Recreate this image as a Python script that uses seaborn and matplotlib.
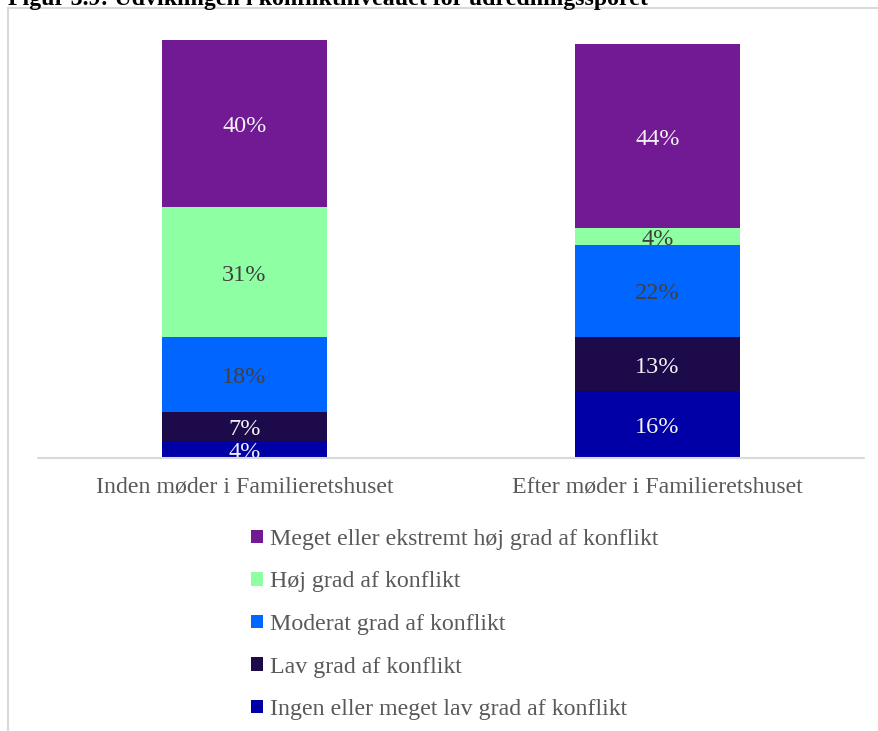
import matplotlib
matplotlib.use("Agg")
import matplotlib.pyplot as plt
from matplotlib.patches import Patch
from matplotlib.lines import Line2D
from matplotlib.transforms import offset_copy
import numpy as np
import pandas as pd
import seaborn as sns

# Data (percent of cases per conflict level)
periods = ["Inden møder i Familieretshuset", "Efter møder i Familieretshuset"]
levels = [
    "Ingen eller meget lav grad af konflikt",
    "Lav grad af konflikt",
    "Moderat grad af konflikt",
    "Høj grad af konflikt",
    "Meget eller ekstremt høj grad af konflikt",
]
ingen = [4, 16]
lav = [7, 13]
moderat = [18, 22]
hoj = [31, 4]
meget = [40, 44]

colors = ["#0000A6", "#1C0A4B", "#0066FF", "#8FFFA3", "#721A94"]
label_colors = ["#F2F2F2", "#F2F2F2", "#404040", "#404040", "#F2F2F2"]

series = [ingen, lav, moderat, hoj, meget]
values = np.array(series, dtype=float)
cum = values.cumsum(axis=0)

serif = ["Liberation Serif", "DejaVu Serif"]
sns.set_theme(style="white")
plt.rcParams["font.family"] = serif

fig = plt.figure(figsize=(8.79, 7.31), dpi=100)
W, H = 879, 731
ax = fig.add_axes([38 / W, 1 - 458 / H, 826 / W, 418 / H])

# Stacked bars: draw cumulative totals from the top layer down
for i in range(len(levels) - 1, -1, -1):
    df = pd.DataFrame({"period": periods, "value": cum[i]})
    sns.barplot(data=df, x="period", y="value", color=colors[i],
                saturation=1, width=0.4, ax=ax, zorder=2,
                edgecolor="none", linewidth=0)

# Segment value labels
label_tf = offset_copy(ax.transData, fig=fig, x=0, y=-2.2, units="points")
for i in range(len(levels)):
    for j in range(len(periods)):
        v = values[i, j]
        mid = cum[i, j] - v / 2
        ax.text(j, mid, f"{int(v)}%", ha="center", va="center", transform=label_tf,
                fontsize=17.5, color=label_colors[i], family=serif, zorder=3)

ax.set_xlim(-0.5, 1.5)
ax.set_ylim(0, 100)
ax.set_xlabel("")
ax.set_ylabel("")
ax.set_yticks([])
for s in ax.spines.values():
    s.set_visible(False)
ax.axhline(0, color="#D9D9D9", lw=1.5, zorder=4, clip_on=False)
ax.tick_params(axis="x", length=0, pad=13, labelsize=17.2, labelcolor="#595959")
for t in ax.get_xticklabels():
    t.set_family(serif)
ax.patch.set_alpha(0)

# Legend (top layer first)
handles = [Patch(facecolor=colors[i], edgecolor="none") for i in range(len(levels) - 1, -1, -1)]
labels = [levels[i] for i in range(len(levels) - 1, -1, -1)]
leg = fig.legend(handles, labels, loc="upper left",
                 bbox_to_anchor=(251 / W, 1 - 529 / H),
                 frameon=False, labelcolor="#595959",
                 handlelength=0.5, handleheight=0.5, handletextpad=0.3,
                 labelspacing=0.9, borderaxespad=0, borderpad=0,
                 prop={"family": serif, "size": 17.2})

# Outer frame lines
fig.add_artist(Line2D([8 / W, 8 / W], [0, 1 - 8 / H], color="#D9D9D9", lw=1.5,
                      transform=fig.transFigure))
fig.add_artist(Line2D([8 / W, 1], [1 - 8 / H, 1 - 8 / H], color="#D9D9D9", lw=1.5,
                      transform=fig.transFigure))

# Title
fig.text(8 / W, 1 - 5 / H, "Figur 3.9: Udviklingen i konfliktniveauet for udredningssporet",
         ha="left", va="baseline", fontsize=17.2, fontweight="bold", color="#000000",
         family=serif)

fig.savefig("out.png", dpi=100, facecolor="white")
